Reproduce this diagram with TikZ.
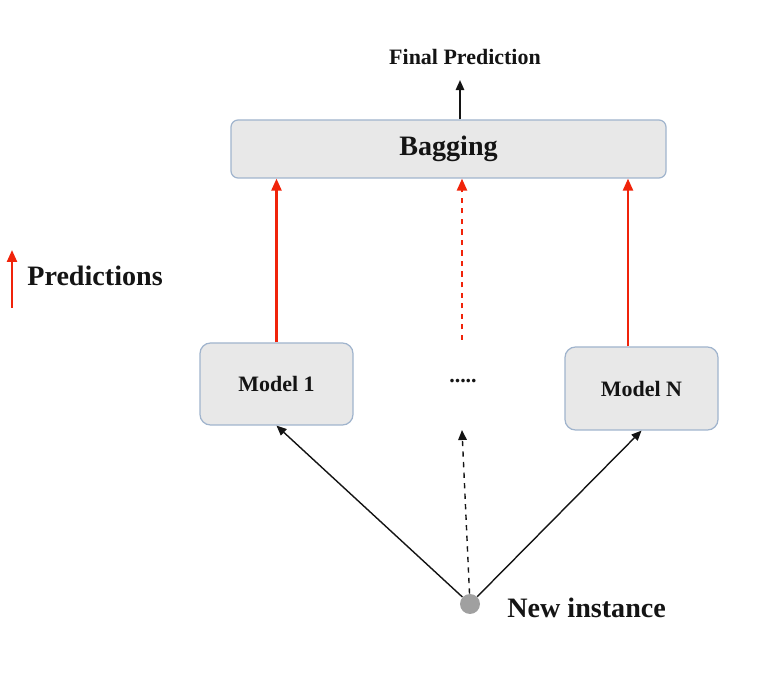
\documentclass[tikz,border=0pt]{standalone}
\usepackage{fontspec}
\setmainfont{Liberation Serif}
\usetikzlibrary{positioning,arrows.meta}
\definecolor{BagPanel}{RGB}{232,232,232}
\definecolor{BagLine}{RGB}{160,180,205}
\definecolor{BagRed}{RGB}{240,35,10}
\definecolor{BagInk}{RGB}{20,20,20}
\definecolor{BagDot}{RGB}{160,160,160}

\begin{document}
\begin{tikzpicture}[
  box/.style={draw=BagLine,fill=BagPanel,line width=0.7pt,rounded corners=6pt,minimum width=3.06cm,minimum height=1.64cm,text=BagInk,font=\bfseries\fontsize{12.5}{15}\selectfont},
  lbl/.style={text=BagInk,font=\bfseries\fontsize{16}{19}\selectfont,inner sep=0pt},
  redarr/.style={-{Triangle[length=2.4mm,width=2mm]},line width=1.3pt,draw=BagRed},
  blkarr/.style={-{Triangle[length=2mm,width=1.7mm]},line width=0.8pt,draw=BagInk}]
  \useasboundingbox (0,0) rectangle (15.66,-13.6);
  \node[box,rounded corners=4pt,minimum width=8.7cm,minimum height=1.16cm,font=\bfseries\fontsize{16}{19}\selectfont] (bagging) at (8.97,-2.98) {Bagging};
  \node[lbl,font=\bfseries\fontsize{12.5}{15}\selectfont] (final) at (9.3,-1.14) {Final Prediction};
  \node[box] (model1) at (5.53,-7.68) {Model 1};
  \node[box,minimum height=1.66cm] (modelN) at (12.83,-7.77) {Model N};
  \node[lbl,font=\bfseries\fontsize{12.5}{15}\selectfont] (dots) at (9.26,-7.62) {.....};
  \node[circle,fill=BagDot,minimum size=0.4cm,inner sep=0pt] (inst) at (9.4,-12.08) {};
  \node[lbl,anchor=west] (newinst) at (10.14,-12.16) {New instance};
  \coordinate (midtop) at (9.24,-6.8);
  \coordinate (midbot) at (9.24,-8.6);
  % legend
  \coordinate (legbot) at (0.24,-6.16);
  \coordinate (legtop) at (0.24,-5.0);
  \node[lbl,anchor=west] (predlbl) at (0.54,-5.52) {Predictions};
  \draw[redarr] (legbot)--(legtop);
  % model outputs
  \draw[redarr] (model1.north)--(model1.north |- bagging.south);
  \draw[redarr,dashed] (midtop)--(midtop |- bagging.south);
  \draw[redarr] ([xshift=-2.7mm]modelN.north)--([xshift=-2.7mm]modelN.north |- bagging.south);
  \draw[blkarr] (bagging.north -| 9.2,0)--([yshift=-3mm]final.south -| 9.2,0);
  % new instance
  \draw[blkarr] (inst)--(model1.south);
  \draw[blkarr] (inst)--(modelN.south);
  \draw[blkarr,dashed] (inst)--(midbot);
\end{tikzpicture}
\end{document}
